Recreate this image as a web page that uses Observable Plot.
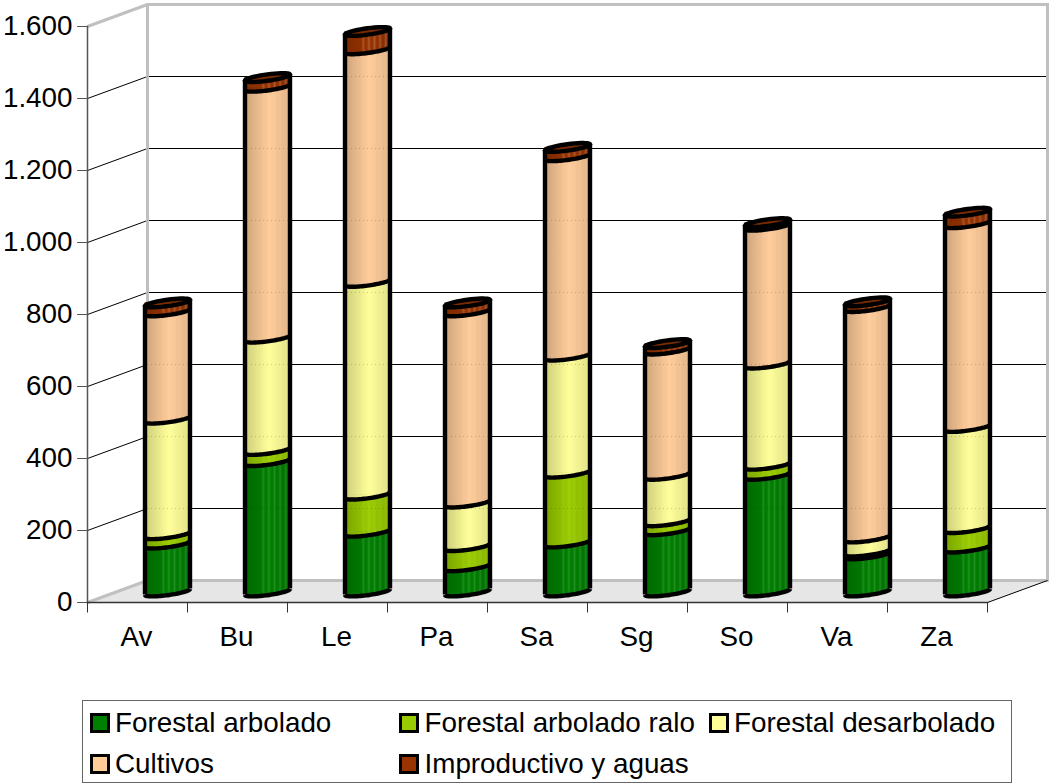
<!DOCTYPE html>
<html>
<head>
<meta charset="utf-8">
<script src="https://cdn.jsdelivr.net/npm/d3@7"></script>
<script src="https://cdn.jsdelivr.net/npm/@observablehq/plot@0.6"></script>
<style>
html,body{margin:0;padding:0;background:#fff;font-family:"Liberation Sans",Arial,sans-serif;}
#wrap{position:relative;width:1050px;height:784px;overflow:hidden;}
#legend{position:absolute;left:82px;top:700px;width:928px;height:81px;border:1.5px solid #666;box-sizing:content-box;font-size:27.8px;color:#000;}
.item{position:absolute;white-space:nowrap;height:30px;line-height:30px;display:flex;align-items:center;}
.sw{display:inline-block;width:14px;height:14px;border:3px solid #000;margin-right:5.5px;}
</style>
</head>
<body>
<div id="wrap"><div id="chart"></div><div id="legend"></div></div>
<script>
const provinces = ["Av","Bu","Le","Pa","Sa","Sg","So","Va","Za"];
const seriesNames = ["Forestal arbolado","Forestal arbolado ralo","Forestal desarbolado","Cultivos","Improductivo y aguas"];
const forestalArbolado = [133,362,166,70,136,170,324,103,122];
const forestalRalo = [26,31,103,56,194,25,28,8,54];
const forestalDesarbolado = [321,312,591,121,325,129,281,39,281];
const cultivos = [298,697,646,531,554,348,383,640,566];
const improductivo = [25,27,51,25,26,18,10,16,32];
const seriesColors = ["#008000","#99cc00","#ffff99","#ffcc99","#993300"];
const yTicks = [0,200,400,600,800,1000,1200,1400,1600];

const allSeries = [forestalArbolado,forestalRalo,forestalDesarbolado,cultivos,improductivo];
const table = allSeries.map(values => values.map((v,i) => ({cat: provinces[i], v})));
provinces.forEach((_,i) => {
  let s = 0;
  table.forEach(col => { col[i].y0 = s; s += col[i].v; col[i].y1 = s; });
});
const tops = table[4];

// 3D geometry
const depthX = 60, depthY = 22;
const cylDx = 30, cylDy = -10.5;
const rx = 22.5, tilt = 3, ry = 3.2, lineW = 4.4;

const ell = t => [rx*Math.cos(t), -tilt*Math.cos(t) + ry*Math.sin(t)];
function trace(ctx, from, to){
  const n = 40;
  for(let i=0;i<=n;i++){
    const [x,y] = ell(from+(to-from)*i/n);
    if(i===0) ctx.moveTo(x,y); else ctx.lineTo(x,y);
  }
}
const ellipseSym = {draw(ctx){trace(ctx,0,2*Math.PI);ctx.closePath();}};
const arcSym = {draw(ctx){trace(ctx,0,Math.PI);}};
const collarSym = {draw(ctx){
  trace(ctx,0,Math.PI);
  ctx.lineTo(-rx,-1);ctx.lineTo(0,-1);ctx.closePath();
}};
const diagSym = {draw(ctx){ctx.moveTo(0,0);ctx.lineTo(depthX,-depthY);}};
const floorSym = {draw(ctx){
  ctx.moveTo(0,0);ctx.lineTo(depthX,-depthY);ctx.lineTo(depthX+900,-depthY);ctx.lineTo(900,0);ctx.closePath();
}};
const tickSym = {draw(ctx){ctx.moveTo(0,0);ctx.lineTo(0,10);}};

function gradients(){
  const g = d3.create("svg:g");
  const defs = g.append("defs");
  seriesColors.forEach((c,k) => {
    const lg = defs.append("linearGradient").attr("id","cyl"+k).attr("x1",0).attr("x2",1).attr("y1",0).attr("y2",0);
    const n = 24;
    const amp = k===0 ? 0.12 : k===1 ? 0.06 : k===4 ? 0.18 : 0.05;
    for(let i=0;i<=n;i++){
      const p = i/n;
      const f = p<0.55 ? 0.8+0.2*(p/0.55) : 1-0.12*((p-0.55)/0.45);
      let col = d3.interpolateRgb("#000",c)(f);
      if(i%3===1 && p>0.3) col = d3.interpolateRgb(col,"#fff")(amp);
      lg.append("stop").attr("offset",p).attr("stop-color",col);
    }
  });
  return g.node();
}

const cyl = {dx:cylDx, dy:cylDy};
const cylinderMarks = [];
table.forEach((col,k) => {
  const fill = `url(#cyl${k})`;
  cylinderMarks.push(
    Plot.dot(col,{x:"cat",y:"y0",symbol:collarSym,fill,...cyl}),
    Plot.barY(col,{x:"cat",y1:"y0",y2:"y1",fill,insetLeft:50-rx,insetRight:50-rx,...cyl}),
    Plot.dot(col,{x:"cat",y:"y1",symbol:ellipseSym,fill,...cyl})
  );
});
cylinderMarks.push(Plot.ruleY(yTicks.slice(1,-1),{y:d=>d,dx:depthX,dy:-depthY,stroke:"#000",strokeOpacity:0.18,strokeWidth:1,strokeDasharray:"1 3"}));
table.forEach(col => {
  cylinderMarks.push(Plot.dot(col,{x:"cat",y:"y0",symbol:arcSym,fill:"none",stroke:"#000",strokeWidth:lineW,...cyl}));
});

const chart = Plot.plot({
  width:1050,height:690,
  marginLeft:87,marginRight:63,marginTop:26,marginBottom:88,
  style:{fontFamily:"'Liberation Sans',Arial,sans-serif",background:"#fff",color:"#000"},
  x:{domain:provinces,padding:0,label:null,axis:null},
  y:{domain:[0,1600],label:null,axis:null},
  marks:[
    gradients,
    Plot.dot([0],{frameAnchor:"bottom-left",symbol:floorSym,fill:"#e6e6e6"}),
    Plot.ruleY(yTicks.slice(1,-1),{y:d=>d,dx:depthX,dy:-depthY,stroke:"#000",strokeWidth:1}),
    Plot.dot(yTicks.slice(1,-1),{y:d=>d,frameAnchor:"left",symbol:diagSym,fill:"none",stroke:"#000",strokeWidth:1}),
    Plot.ruleY([0,1600],{y:d=>d,dx:depthX,dy:-depthY,stroke:"#c0c0c0",strokeWidth:3}),
    Plot.frame({anchor:"left",dx:depthX,dy:-depthY,stroke:"#c0c0c0",strokeWidth:3}),
    Plot.frame({anchor:"right",dx:depthX,dy:-depthY,stroke:"#c0c0c0",strokeWidth:3}),
    Plot.dot([1600],{y:d=>d,frameAnchor:"left",symbol:diagSym,fill:"none",stroke:"#c0c0c0",strokeWidth:3}),
    Plot.dot([0],{y:d=>d,frameAnchor:"left",symbol:diagSym,fill:"none",stroke:"#c0c0c0",strokeWidth:3}),
    Plot.dot([0],{frameAnchor:"bottom-right",symbol:diagSym,fill:"none",stroke:"#000",strokeWidth:1}),
    Plot.frame({anchor:"left",stroke:"#555",strokeWidth:1.5}),
    Plot.frame({anchor:"bottom",stroke:"#333",strokeWidth:1.5}),
    Plot.axisY({ticks:yTicks,tickSize:10,tickPadding:5,fontSize:27.8,stroke:"#555",label:null,
      tickFormat:d=>d3.format(",")(d).replace(",",".")}),
    Plot.axisX({tickSize:0,tickPadding:24,fontSize:27.8,label:null,dx:-1}),
    Plot.dot(provinces,{x:d=>d,y:()=>0,dx:-50,symbol:tickSym,fill:"none",stroke:"#333",strokeWidth:1}),
    Plot.dot(provinces.slice(-1),{x:d=>d,y:()=>0,dx:50,symbol:tickSym,fill:"none",stroke:"#333",strokeWidth:1}),
    ...cylinderMarks,
    Plot.ruleX(tops,{x:"cat",y1:()=>0,y2:"y1",dx:cylDx-rx,dy:cylDy+tilt,stroke:"#000",strokeWidth:lineW}),
    Plot.ruleX(tops,{x:"cat",y1:()=>0,y2:"y1",dx:cylDx+rx,dy:cylDy-tilt,stroke:"#000",strokeWidth:lineW}),
    Plot.dot(tops,{x:"cat",y:"y1",symbol:ellipseSym,fill:"#7d2c00",stroke:"#000",strokeWidth:lineW,...cyl})
  ]
});
document.getElementById("chart").appendChild(chart);

const legendPos = [[6.5,7],[316,7],[625.5,7],[6.5,48],[316,48]];
const legend = document.getElementById("legend");
seriesNames.forEach((name,k) => {
  const it = document.createElement("div");
  it.className = "item";
  it.style.left = legendPos[k][0]+"px";
  it.style.top = legendPos[k][1]+"px";
  const sw = document.createElement("span");
  sw.className = "sw";
  sw.style.background = seriesColors[k];
  it.appendChild(sw);
  it.appendChild(document.createTextNode(name));
  legend.appendChild(it);
});
</script>
</body>
</html>
